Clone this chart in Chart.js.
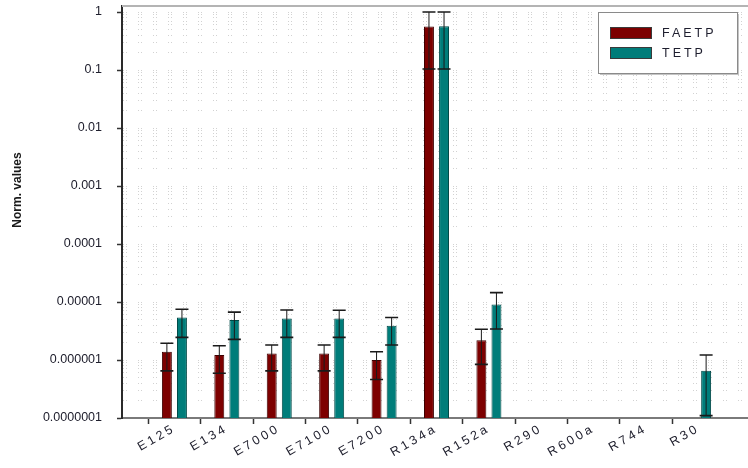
<!DOCTYPE html>
<html>
<head>
<meta charset="utf-8">
<script src="https://cdn.jsdelivr.net/npm/chart.js@4/dist/chart.umd.min.js"></script>
<style>
html,body{margin:0;padding:0;background:#fff;overflow:hidden;}
#wrap{width:748px;height:468px;overflow:hidden;}
canvas{display:block;}
</style>
</head>
<body>
<div id="wrap"><canvas id="c" width="751" height="468"></canvas></div>
<script>
const categories = ['E125','E134','E7000','E7100','E7200','R134a','R152a','R290','R600a','R744','R30'];
const seriesNames = ['FAETP','TETP'];
const faetp     = [1.39e-6, 1.22e-6, 1.30e-6, 1.30e-6, 1.00e-6, 0.56, 2.2e-6, null, null, null, null];
const faetpLow  = [6.5e-7, 5.9e-7, 6.5e-7, 6.5e-7, 4.6e-7, 0.104, 8.4e-7, null, null, null, null];
const faetpHigh = [1.94e-6, 1.76e-6, 1.81e-6, 1.81e-6, 1.39e-6, 1.0, 3.4e-6, null, null, null, null];
const tetp      = [5.4e-6, 4.9e-6, 5.2e-6, 5.2e-6, 3.9e-6, 0.57, 9.1e-6, null, null, null, 6.5e-7];
const tetpLow   = [2.46e-6, 2.27e-6, 2.46e-6, 2.46e-6, 1.81e-6, 0.104, 3.42e-6, null, null, null, 1.1e-7];
const tetpHigh  = [7.5e-6, 6.7e-6, 7.3e-6, 7.2e-6, 5.4e-6, 1.0, 1.45e-5, null, null, null, 1.22e-6];
const yTickValues = [1e-7, 1e-6, 1e-5, 1e-4, 1e-3, 1e-2, 1e-1, 1];
const yTitle = 'Norm. values';

const FONT = "'Liberation Sans', Arial, sans-serif";
const pad = arr => [null, ...arr, null];
const labels = ['', ...categories, ''];
const isPow10 = v => Math.abs(Math.log10(v) - Math.round(Math.log10(v))) < 1e-9;

const errorBars = {
  id: 'errorBars',
  afterDatasetsDraw(chart) {
    const ctx = chart.ctx, y = chart.scales.y;
    chart.data.datasets.forEach((ds, i) => {
      const meta = chart.getDatasetMeta(i);
      ds.data.forEach((v, j) => {
        if (v == null || ds.errLow[j] == null) return;
        const bar = meta.data[j];
        const x = bar.x;
        const yl = y.getPixelForValue(ds.errLow[j]);
        const yh = y.getPixelForValue(ds.errHigh[j]);
        ctx.save();
        ctx.strokeStyle = '#1a1a1a';
        ctx.lineWidth = 1;
        ctx.beginPath(); ctx.moveTo(x, yl); ctx.lineTo(x, yh); ctx.stroke();
        ctx.lineWidth = 1.6;
        ctx.beginPath();
        ctx.moveTo(x - 6.5, yh); ctx.lineTo(x + 6.5, yh);
        ctx.moveTo(x - 6.5, yl); ctx.lineTo(x + 6.5, yl);
        ctx.stroke();
        ctx.restore();
      });
    });
  }
};

const decorations = {
  id: 'decorations',
  afterLayout(chart) {
    const s = chart.scales.x;
    if (s && !s._lsWrapped) {
      const orig = s.drawLabels.bind(s);
      s.drawLabels = function(area) {
        const c = this.ctx; const prev = c.letterSpacing;
        c.letterSpacing = '3px'; orig(area); c.letterSpacing = prev;
      };
      s._lsWrapped = true;
    }
  },
  beforeDatasetsDraw(chart) {
    const {ctx, chartArea} = chart;
    ctx.save();
    ctx.strokeStyle = '#b4b4b4';
    ctx.lineWidth = 2;
    ctx.beginPath(); ctx.moveTo(chartArea.left, chartArea.top); ctx.lineTo(chartArea.right, chartArea.top); ctx.stroke();
    ctx.restore();
  },
  afterDraw(chart) {
    const ctx = chart.ctx;
    ctx.save();
    ctx.translate(18, 190);
    ctx.rotate(-Math.PI / 2);
    ctx.font = 'bold 12px ' + FONT;
    ctx.fillStyle = '#1a1a1a';
    ctx.textAlign = 'center';
    ctx.textBaseline = 'middle';
    ctx.fillText(yTitle, 0, 0);
    ctx.restore();
    const bx = 598, by = 12, bw = 139, bh = 61;
    ctx.save();
    ctx.fillStyle = '#c4c4c4';
    ctx.fillRect(bx + 2, by + 2, bw, bh);
    ctx.fillStyle = '#fff';
    ctx.fillRect(bx, by, bw, bh);
    ctx.strokeStyle = '#8a8a8a';
    ctx.lineWidth = 1;
    ctx.strokeRect(bx + 0.5, by + 0.5, bw, bh);
    chart.data.datasets.forEach((ds, i) => {
      const sy = 27 + i * 20;
      ctx.fillStyle = ds.backgroundColor;
      ctx.fillRect(610, sy, 42, 12);
      ctx.strokeStyle = '#3a3a3a';
      ctx.strokeRect(610.5, sy + 0.5, 41, 11);
      ctx.fillStyle = '#1e1e2e';
      ctx.font = '12.5px ' + FONT;
      ctx.letterSpacing = '3px';
      ctx.textAlign = 'left';
      ctx.textBaseline = 'middle';
      ctx.fillText(ds.label, 662, sy + 6.5);
    });
    ctx.restore();
  }
};

new Chart(document.getElementById('c'), {
  type: 'bar',
  data: {
    labels: labels,
    datasets: [
      { label: seriesNames[0], data: pad(faetp), errLow: pad(faetpLow), errHigh: pad(faetpHigh),
        backgroundColor: '#7d0000', borderColor: '#3d0000', borderWidth: 1,
        categoryPercentage: 0.575, barPercentage: 0.66 },
      { label: seriesNames[1], data: pad(tetp), errLow: pad(tetpLow), errHigh: pad(tetpHigh),
        backgroundColor: '#007d7a', borderColor: '#004a48', borderWidth: 1,
        categoryPercentage: 0.575, barPercentage: 0.66 }
    ]
  },
  options: {
    responsive: false,
    animation: false,
    layout: { padding: { top: 6, right: 0, left: 0, bottom: 0 } },
    plugins: { legend: { display: false }, tooltip: { enabled: false } },
    scales: {
      x: {
        type: 'category',
        offset: false,
        grid: { drawOnChartArea: false, drawTicks: true, tickLength: 6, tickWidth: 1.5,
                tickColor: c => (c.index > 0 && c.index <= categories.length) ? '#333' : 'rgba(0,0,0,0)' },
        border: { color: '#7a7a7a', width: 2 },
        ticks: { autoSkip: false, minRotation: 30, maxRotation: 30, padding: -3,
                 font: { family: FONT, size: 12.5 }, color: '#20202e' },
        afterFit: s => { s.height = 50; s.paddingLeft = 0; s.paddingRight = 0; s.paddingTop = 0; s.paddingBottom = 0; }
      },
      y: {
        type: 'logarithmic',
        min: 1e-7,
        max: 1.27,
        bounds: 'data',
        afterBuildTicks: axis => {
          const t = [];
          yTickValues.forEach((d, k) => {
            if (k === yTickValues.length - 1) { t.push({ value: d }); return; }
            for (let m = 1; m <= 9; m++) t.push({ value: +(m * d).toPrecision(3) });
          });
          axis.ticks = t;
        },
        ticks: {
          autoSkip: false,
          padding: 15,
          font: { family: FONT, size: 12.5 },
          color: '#20202e',
          callback: v => {
            if (!isPow10(v)) return '';
            const e = Math.round(Math.log10(v));
            return e < 0 ? v.toFixed(-e) : String(Math.round(v));
          }
        },
        grid: {
          color: '#d2d2d2', lineWidth: 1, drawTicks: true, tickLength: 5,
          tickColor: c => (c.tick && isPow10(c.tick.value)) ? '#333' : 'rgba(0,0,0,0)',
          tickBorderDash: [], tickWidth: 1.5
        },
        border: { color: '#2a2a2a', width: 2, dash: [1, 2, 1, 11] },
        afterFit: s => { s.width = 122; s.paddingTop = 0; s.paddingBottom = 0; s.paddingLeft = 0; s.paddingRight = 0; }
      }
    }
  },
  plugins: [errorBars, decorations]
});
</script>
</body>
</html>
